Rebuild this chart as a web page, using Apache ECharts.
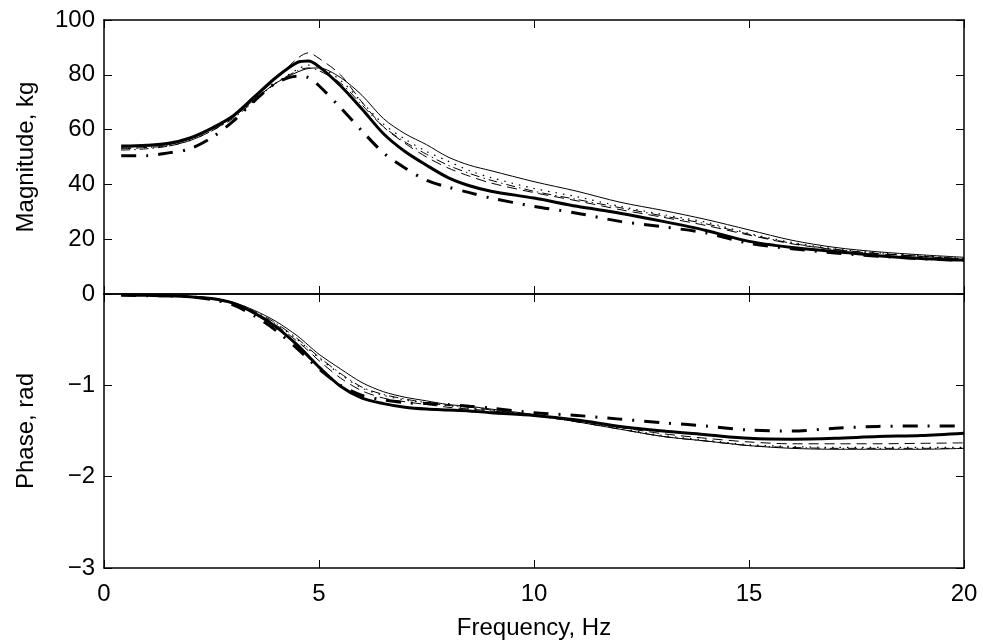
<!DOCTYPE html>
<html>
<head>
<meta charset="utf-8">
<script src="https://cdn.jsdelivr.net/npm/echarts@6/dist/echarts.min.js"></script>
<style>
html,body{margin:0;padding:0;background:#fff;}
#chart{width:983px;height:643px;}
</style>
</head>
<body>
<div id="chart"></div>
<script>
// Frequency grid (Hz)
const freq = [0.4, 1, 1.5, 2, 2.5, 3, 3.5, 4, 4.5, 4.75, 5, 5.5, 6, 6.5, 7, 7.5, 8, 8.5, 9, 10, 11, 12, 13, 14, 15, 16, 17, 18, 19, 20];

// Magnitude, kg
const magThickSolid   = [54, 54.3, 55, 57, 60.5, 65, 72, 79, 84.5, 85, 83, 76, 67.5, 58.5, 52, 47, 42.5, 39.5, 37.5, 35, 32, 29.5, 26.5, 23.2, 19.2, 17, 15.5, 14, 13, 12.4];
const magThickDashDot = [50.5, 50.5, 51.5, 53, 57, 63, 70.5, 77, 79.5, 79, 76, 68, 59.5, 51.5, 46, 41.5, 39, 37, 35, 32, 29.5, 26.5, 24.5, 22.3, 18.5, 16.5, 15, 13.8, 12.9, 12.3];
const magThinSolid    = [53.5, 54, 54.5, 56.5, 60, 64.5, 71, 77, 81, 82.3, 82.5, 79, 72.5, 64, 58.5, 54.5, 50, 47, 45, 41, 37.5, 33.5, 30.5, 27.2, 23.4, 19.6, 17, 15.4, 14.3, 13.4];
const magThinDotted   = [53, 53.5, 54.5, 56.5, 60, 64.5, 71, 77, 82, 83.5, 83, 78, 70, 62, 56.5, 52, 48.5, 45, 42.5, 38.5, 35.5, 32, 29, 26.2, 22.1, 18.8, 16.5, 15, 14, 13];
const magThinDashed   = [53, 53.5, 54, 56, 59.5, 64.5, 71.5, 78.5, 86, 88, 86, 80, 70, 61, 55, 50, 46, 43, 40.5, 37, 34, 30.8, 28, 25, 21.5, 18.3, 16.2, 14.7, 13.7, 12.8];
const magThinDashDot  = [52.5, 53, 54, 56, 59.5, 64, 70.5, 77, 81.5, 82.5, 81.5, 77, 69, 61, 55.5, 51, 47, 44, 41.5, 37.5, 34.5, 31.5, 28.5, 25.6, 21.8, 18.5, 16.3, 14.8, 13.8, 12.9];

// Phase, rad
const phThickSolid    = [-0.01, -0.015, -0.02, -0.03, -0.05, -0.10, -0.21, -0.36, -0.56, -0.68, -0.80, -1.01, -1.14, -1.20, -1.24, -1.26, -1.27, -1.28, -1.30, -1.33, -1.38, -1.45, -1.50, -1.54, -1.58, -1.59, -1.58, -1.56, -1.55, -1.525];
const phThickDashDot  = [-0.01, -0.02, -0.02, -0.03, -0.06, -0.12, -0.24, -0.40, -0.60, -0.71, -0.82, -1.00, -1.11, -1.16, -1.19, -1.20, -1.21, -1.23, -1.25, -1.30, -1.33, -1.37, -1.41, -1.445, -1.49, -1.50, -1.47, -1.45, -1.445, -1.445];
const phThinSolid     = [-0.01, -0.01, -0.02, -0.03, -0.05, -0.09, -0.18, -0.30, -0.46, -0.56, -0.66, -0.82, -0.97, -1.07, -1.13, -1.17, -1.21, -1.23, -1.26, -1.32, -1.40, -1.48, -1.56, -1.61, -1.66, -1.69, -1.70, -1.70, -1.70, -1.69];
const phThinDotted    = [-0.01, -0.01, -0.02, -0.03, -0.05, -0.10, -0.20, -0.33, -0.50, -0.60, -0.70, -0.88, -1.03, -1.11, -1.16, -1.19, -1.22, -1.25, -1.27, -1.33, -1.40, -1.47, -1.55, -1.60, -1.65, -1.67, -1.68, -1.68, -1.68, -1.68];
const phThinDashed    = [-0.01, -0.01, -0.02, -0.03, -0.05, -0.10, -0.20, -0.34, -0.52, -0.62, -0.73, -0.92, -1.06, -1.14, -1.18, -1.21, -1.24, -1.26, -1.28, -1.33, -1.39, -1.46, -1.53, -1.58, -1.62, -1.64, -1.64, -1.64, -1.635, -1.63];
const phThinDashDot   = [-0.01, -0.01, -0.02, -0.03, -0.05, -0.10, -0.19, -0.32, -0.49, -0.59, -0.69, -0.87, -1.02, -1.10, -1.15, -1.19, -1.22, -1.24, -1.27, -1.33, -1.40, -1.48, -1.56, -1.61, -1.66, -1.68, -1.69, -1.69, -1.69, -1.69];

// Axis ticks
const xTicks = [0, 5, 10, 15, 20];
const magTicks = [0, 20, 40, 60, 80, 100];
const phaseTicks = [-3, -2, -1, 0];

const FONT = 'Liberation Sans, Arial, Helvetica, sans-serif';
const FS = 24;
const pairs = (ys) => freq.map((f, i) => [f, ys[i]]);
const minus = (v) => (v < 0 ? '\u2212' + Math.abs(v) : String(v));

const styles = [
  { name: 'thinSolid',    mag: magThinSolid,    ph: phThinSolid,    width: 1, type: 'solid' },
  { name: 'thinDotted',   mag: magThinDotted,   ph: phThinDotted,   width: 1.2, type: [1.5, 6] },
  { name: 'thinDashed',   mag: magThinDashed,   ph: phThinDashed,   width: 1, type: [10, 6] },
  { name: 'thinDashDot',  mag: magThinDashDot,  ph: phThinDashDot,  width: 1, type: [9, 4, 1.5, 4] },
  { name: 'thickDashDot', mag: magThickDashDot, ph: phThickDashDot, width: 3, type: [15, 10, 2, 10] },
  { name: 'thickSolid',   mag: magThickSolid,   ph: phThickSolid,   width: 3, type: 'solid' }
];

const series = [];
styles.forEach(s => {
  series.push({
    name: s.name + 'Mag', type: 'line', xAxisIndex: 0, yAxisIndex: 0,
    data: pairs(s.mag), showSymbol: false, smooth: 0.3, silent: true,
    lineStyle: { color: '#000', width: s.width, type: s.type }
  });
  series.push({
    name: s.name + 'Phase', type: 'line', xAxisIndex: 2, yAxisIndex: 2,
    data: pairs(s.ph), showSymbol: false, smooth: 0.3, silent: true,
    lineStyle: { color: '#000', width: s.width, type: s.type }
  });
});

const axisLine = { show: true, onZero: false, lineStyle: { color: '#000', width: 1.5 } };
const tick = { show: true, inside: true, length: 8, lineStyle: { color: '#000', width: 1 } };
const label = { color: '#000', fontFamily: FONT, fontSize: FS };
const nameStyle = { color: '#000', fontFamily: FONT, fontSize: FS };

function xAx(grid, pos, showLabel, name) {
  return {
    type: 'value', gridIndex: grid, position: pos, min: xTicks[0], max: xTicks[xTicks.length - 1], interval: 5,
    axisLine, axisTick: tick, splitLine: { show: false },
    axisLabel: Object.assign({ show: showLabel, margin: 14 }, label),
    name: name || '', nameLocation: 'middle', nameGap: 48,
    nameTextStyle: nameStyle
  };
}
function yAx(grid, pos, showLabel, ticks, name, hideMax) {
  return {
    type: 'value', gridIndex: grid, position: pos, min: ticks[0], max: ticks[ticks.length - 1],
    interval: ticks[1] - ticks[0],
    axisLine, axisTick: tick, splitLine: { show: false },
    axisLabel: Object.assign({ show: showLabel, margin: 9, formatter: minus, showMaxLabel: !hideMax }, label),
    name: name || '', nameLocation: 'middle', nameGap: 66,
    nameTextStyle: nameStyle
  };
}

const option = {
  backgroundColor: '#fff',
  animation: false,
  grid: [
    { left: 104, right: 19, top: 20, height: 274, outerBoundsMode: 'none' },
    { left: 104, right: 19, top: 294, height: 274, outerBoundsMode: 'none' }
  ],
  xAxis: [
    xAx(0, 'bottom', false),
    xAx(0, 'top', false),
    xAx(1, 'bottom', true, 'Frequency, Hz'),
    xAx(1, 'top', false)
  ],
  yAxis: [
    yAx(0, 'left', true, magTicks, 'Magnitude, kg'),
    yAx(0, 'right', false, magTicks),
    yAx(1, 'left', true, phaseTicks, 'Phase, rad', true),
    yAx(1, 'right', false, phaseTicks)
  ],
  series
};

const chart = echarts.init(document.getElementById('chart'), null, { renderer: 'canvas' });
chart.setOption(option);
</script>
</body>
</html>
